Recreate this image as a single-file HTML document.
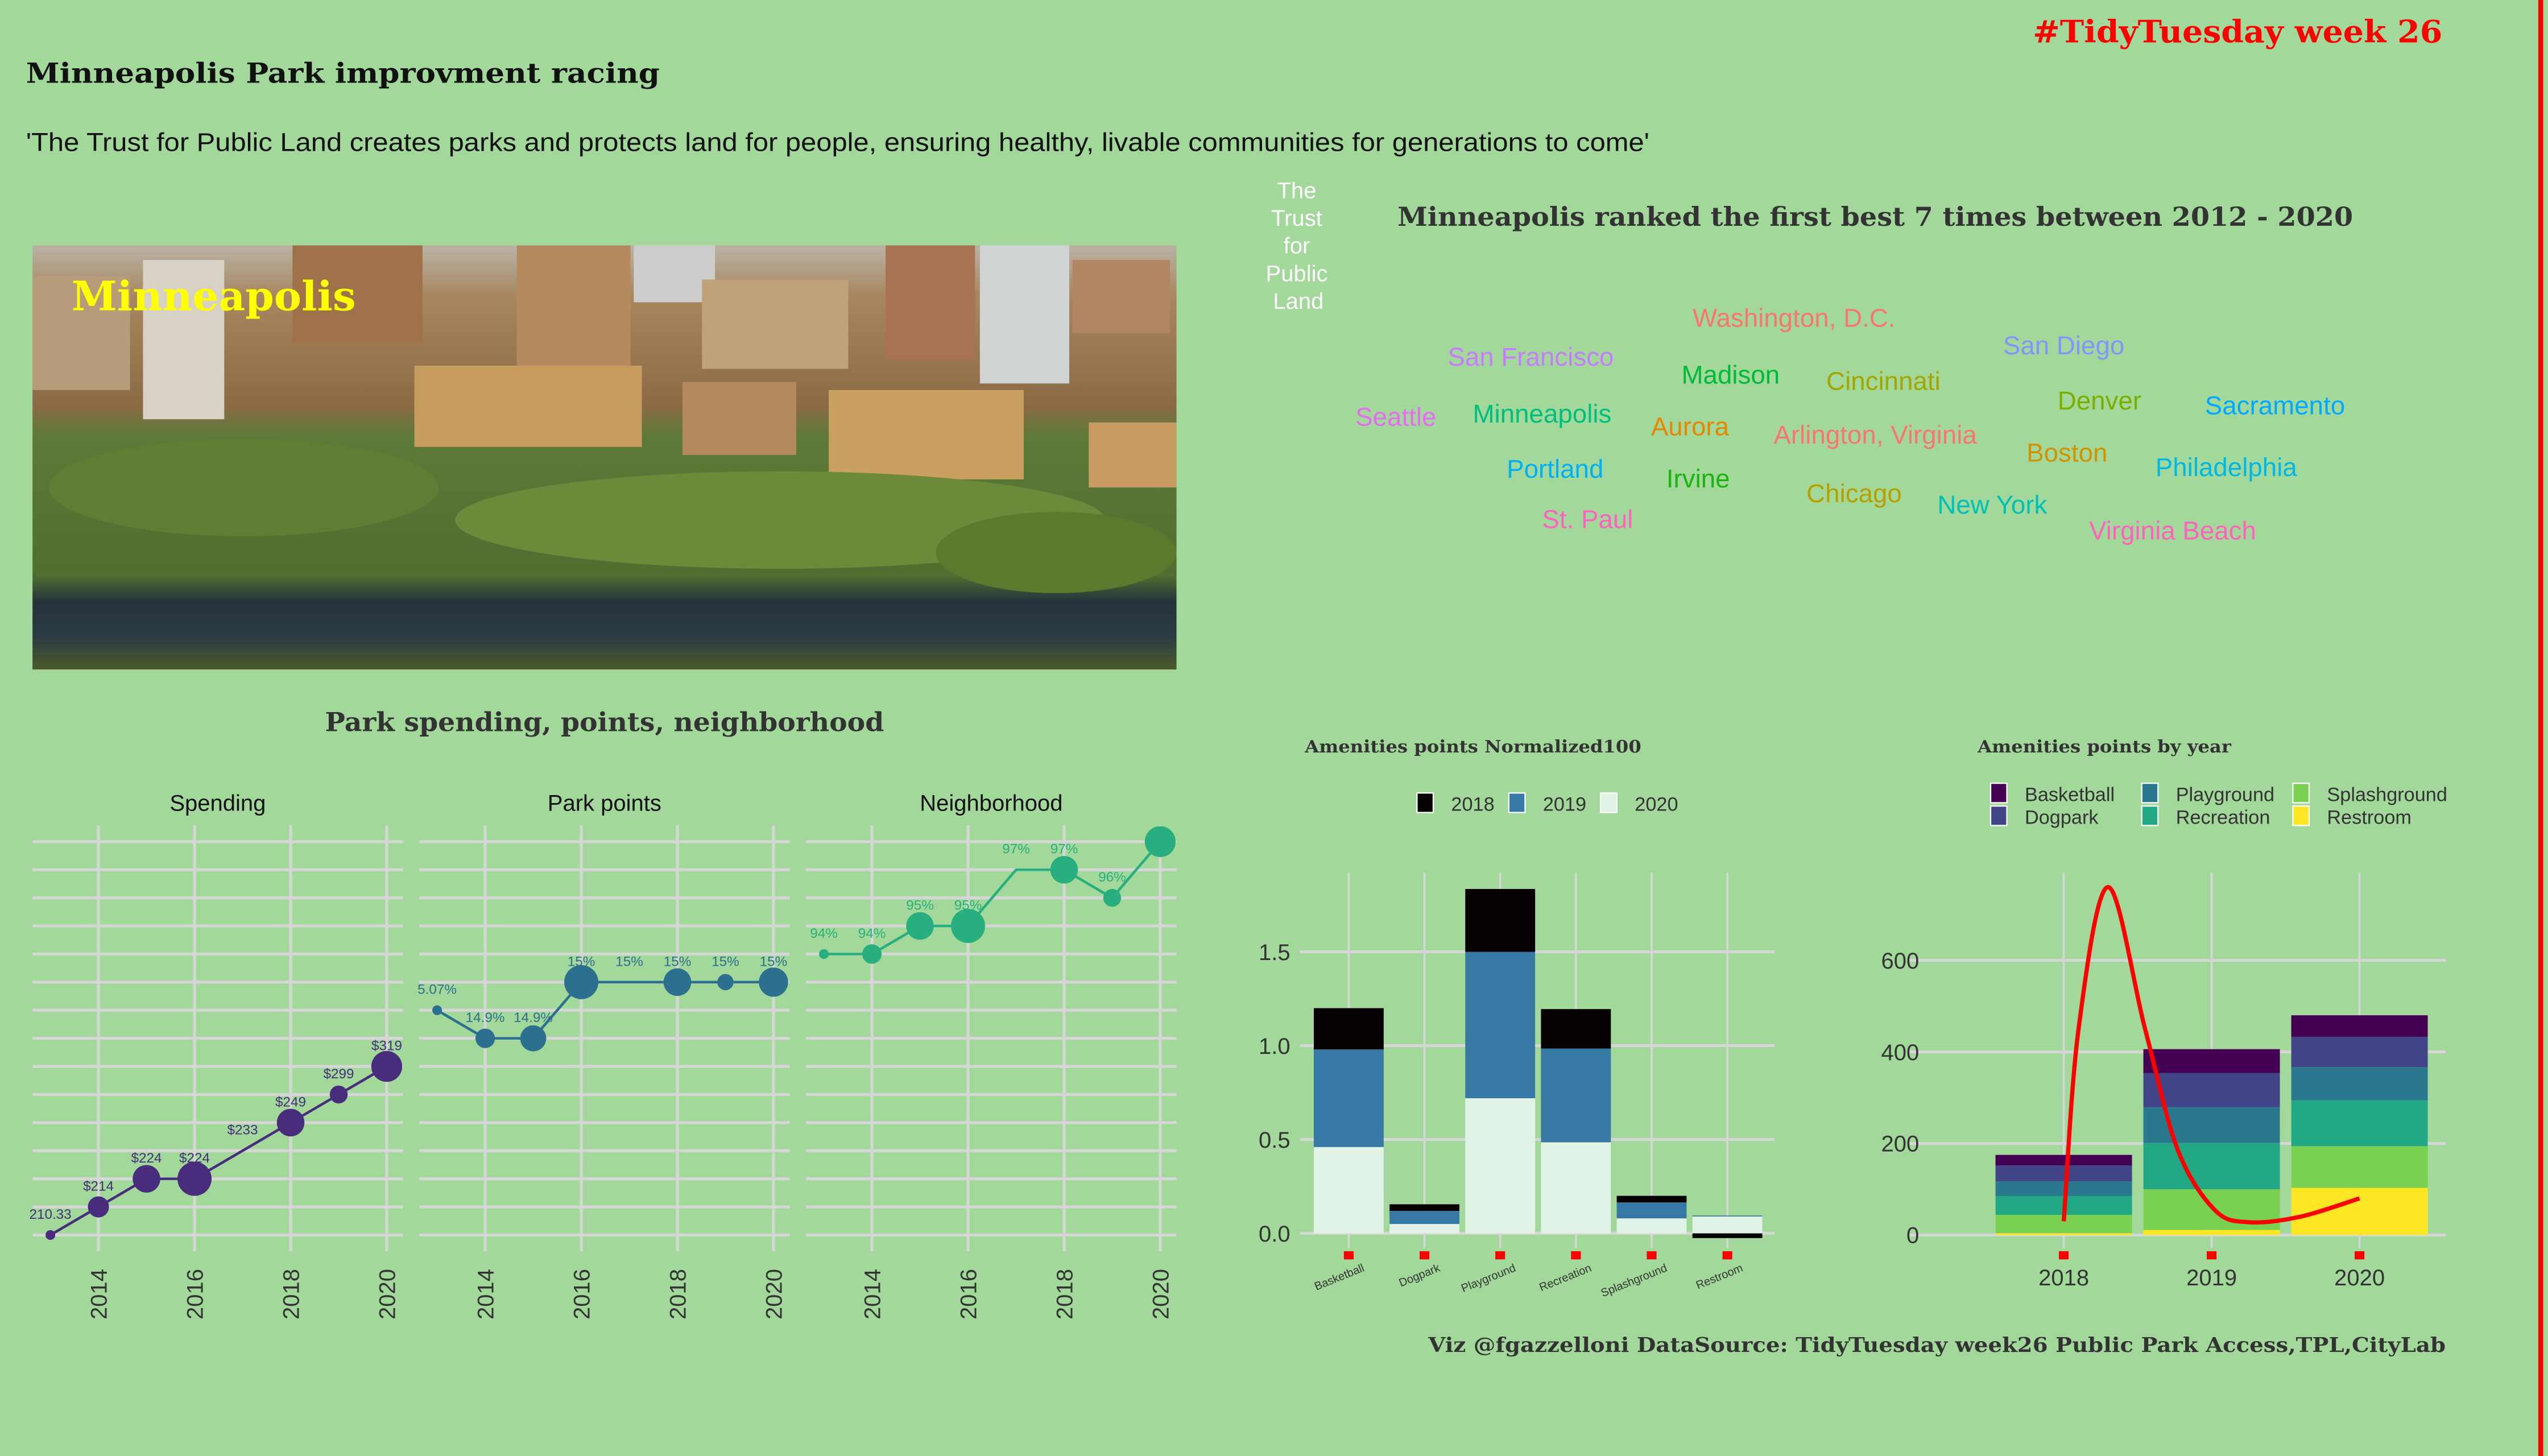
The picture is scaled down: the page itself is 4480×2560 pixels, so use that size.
<!DOCTYPE html>
<html><head><meta charset="utf-8"><style>
html,body{margin:0;padding:0;background:#A2D99B;}
svg{display:block;}
.ser{font-family:"DejaVu Serif","Liberation Serif",serif;font-weight:bold;}
.sans{font-family:"Liberation Sans",sans-serif;}
</style></head><body>
<svg id="root" width="4480" height="2560" viewBox="0 0 1568 896" xmlns="http://www.w3.org/2000/svg">
<rect x="0" y="0" width="1568" height="896" fill="#A2D99B"/>
<rect x="1562" y="0" width="3" height="896" fill="#FF0000"/>
<text x="1251" y="26" textLength="252" lengthAdjust="spacingAndGlyphs" class="ser" font-size="19" fill="#FF0000">#TidyTuesday week 26</text>
<text x="16" y="51" textLength="390" lengthAdjust="spacingAndGlyphs" class="ser" font-size="17" fill="#111">Minneapolis Park improvment racing</text>
<text x="16" y="93" textLength="999" lengthAdjust="spacingAndGlyphs" class="sans" font-size="16" fill="#111">'The Trust for Public Land creates parks and protects land for people, ensuring healthy, livable communities for generations to come'</text>

<g>
<defs>
<linearGradient id="ph" x1="0" y1="0" x2="0" y2="1">
<stop offset="0" stop-color="#b9b3a5"/><stop offset="0.12" stop-color="#a8865f"/><stop offset="0.38" stop-color="#8b6a45"/><stop offset="0.45" stop-color="#5d7a38"/><stop offset="0.78" stop-color="#4f6e30"/><stop offset="0.84" stop-color="#25323a"/><stop offset="0.92" stop-color="#2b3a44"/><stop offset="1" stop-color="#4a5a2a"/>
</linearGradient>
</defs>
<rect x="20" y="151" width="704" height="261" fill="url(#ph)"/>
<rect x="88" y="160" width="50" height="98" fill="#d8d2c6"/>
<rect x="180" y="151" width="80" height="60" fill="#a0724a"/>
<rect x="318" y="151" width="70" height="78" fill="#b48a5e"/>
<rect x="390" y="151" width="50" height="35" fill="#cfcdcb"/>
<rect x="432" y="172" width="90" height="55" fill="#c0a27a"/>
<rect x="545" y="151" width="55" height="70" fill="#a87352"/>
<rect x="603" y="151" width="55" height="85" fill="#cfd3d3"/>
<rect x="255" y="225" width="140" height="50" fill="#c79a5e"/>
<rect x="420" y="235" width="70" height="45" fill="#b38a5e"/>
<rect x="510" y="240" width="120" height="55" fill="#c9a060"/>
<rect x="660" y="160" width="60" height="45" fill="#b18763"/>
<rect x="670" y="260" width="54" height="40" fill="#c69a60"/>
<rect x="20" y="170" width="60" height="70" fill="#b79c7c"/>
<ellipse cx="150" cy="300" rx="120" ry="30" fill="#5f7e34"/>
<ellipse cx="480" cy="320" rx="200" ry="30" fill="#6d8a3a"/>
<ellipse cx="650" cy="340" rx="74" ry="25" fill="#5b7a2e"/>
<text x="44" y="191" textLength="175" lengthAdjust="spacingAndGlyphs" class="ser" font-size="25" fill="#FFFF00">Minneapolis</text>
</g>

<g class="sans" font-size="14" fill="#ffffff" text-anchor="middle">
<text x="798" y="122">The</text><text x="798" y="139">Trust</text><text x="798" y="156">for</text><text x="798" y="173">Public</text><text x="799" y="190">Land</text>
</g>
<text x="860" y="139" textLength="588" lengthAdjust="spacingAndGlyphs" class="ser" font-size="16" fill="#333">Minneapolis ranked the first best 7 times between 2012 - 2020</text>
<g id="cloud" class="sans" font-size="16" text-anchor="middle"></g>

<text x="200" y="450" textLength="344" lengthAdjust="spacingAndGlyphs" class="ser" font-size="16" fill="#333">Park spending, points, neighborhood</text>
<g id="facets"></g>

<text x="803" y="463" textLength="207" lengthAdjust="spacingAndGlyphs" class="ser" font-size="10.5" fill="#333">Amenities points Normalized100</text>
<g id="norm"></g>

<text x="1217" y="463" textLength="156" lengthAdjust="spacingAndGlyphs" class="ser" font-size="10.5" fill="#333">Amenities points by year</text>
<g id="yearc"></g>

<text x="879" y="832" textLength="626" lengthAdjust="spacingAndGlyphs" class="ser" font-size="12.5" fill="#333">Viz @fgazzelloni DataSource: TidyTuesday week26 Public Park Access,TPL,CityLab</text>
</svg>
<script>
// ---------- word cloud ----------
const cityNames = ['Washington, D.C.','San Francisco','San Diego','Madison','Cincinnati','Denver','Sacramento','Seattle','Minneapolis','Aurora','Arlington, Virginia','Boston','Philadelphia','Portland','Irvine','Chicago','New York','St. Paul','Virginia Beach'];
const cityX = [1104,942,1270,1065,1159,1292,1400,859,949,1040,1154,1272,1370,957,1045,1141,1226,977,1337];
const cityY = [201,225,218,236,240,252,255,262,260,268,273,284,293,294,300,309,316,325,332];
const cityColors = ['#F8766D','#C77CFF','#8494FF','#00BA38','#A3A500','#7CAE00','#00A9FF','#E76BF3','#00BF7D','#E58700','#F8766D','#D39200','#00B8E7','#00B0F6','#1BB40F','#B79F00','#00C0B8','#FF61C3','#FF62BC'];
const NS='http://www.w3.org/2000/svg';
function mk(tag, attrs, parent){const e=document.createElementNS(NS,tag);for(const k in attrs)e.setAttribute(k,attrs[k]);parent.appendChild(e);return e;}
const cloud=document.getElementById('cloud');
cityNames.forEach((c,i)=>{const t=mk('text',{x:cityX[i],y:cityY[i],fill:cityColors[i]},cloud);t.textContent=c;

});

// ---------- facet chart ----------
const facetNames = ['Spending','Park points','Neighborhood'];
const facetColors = ['#472D7B','#2D6F8E','#29AF7F'];
const years = [2013,2014,2015,2016,2017,2018,2019,2020];
const yCategories = ['210.33','$214','$224','$233','$249','$299','$319','14.9%','5.07%','15%','94%','95%','96%','97%','98%'];
const spendingValues = ['210.33','$214','$224','$224','$233','$249','$299','$319'];
const parkValues = ['5.07%','14.9%','14.9%','15%','15%','15%','15%','15%'];
const neighValues = ['94%','94%','95%','95%','97%','97%','96%','98%'];
const spendingSizes = [3,6.5,8.5,10.5,0,8.5,5.5,9.5];
const parkSizes = [3,6,8,10.5,0,8.5,5,9];
const neighSizes = [3,6,8.5,10.5,0,8.5,5.5,9.5];
const neighShowLabel = [1,1,1,1,1,1,1,0];
const facetTicks = [2014,2016,2018,2020];
const F=document.getElementById('facets');
function fx(f,yr){return 31+f*238+(yr-2013)*29.57;}
function fy(v){return 760-yCategories.indexOf(v)*17.29;}
const series=[[spendingValues,spendingSizes],[parkValues,parkSizes],[neighValues,neighSizes]];
for(let f=0;f<3;f++){
  const x0=20+f*238, x1=248+f*238;
  const tt=mk('text',{x:(x0+x1)/2,y:499,'text-anchor':'middle','font-size':14,fill:'#111','font-family':'Liberation Sans, sans-serif'},F);tt.textContent=facetNames[f];
  
  
  yCategories.forEach(c=>{const l=mk('line',{x1:x0,x2:x1,y1:fy(c),y2:fy(c),stroke:'#D6D6D6','stroke-width':1.8},F);
    
    });
  facetTicks.forEach(yr=>{const l=mk('line',{x1:fx(f,yr),x2:fx(f,yr),y1:508,y2:770,stroke:'#D6D6D6','stroke-width':1.8},F);
    
    
    const t=mk('text',{x:0,y:0,transform:`translate(${fx(f,yr)+5},812) rotate(-90)`,'font-size':14,fill:'#333','font-family':'Liberation Sans, sans-serif'},F);t.textContent=yr;
    
    });
  const vals=series[f][0], sizes=series[f][1], col=facetColors[f];
  const pts=years.map((yr,i)=>fx(f,yr)+','+fy(vals[i])).join(' ');
  const pl=mk('polyline',{points:pts,fill:'none',stroke:col,'stroke-width':1.6},F);
  
  
  years.forEach((yr,i)=>{
    if(sizes[i]>0){const c=mk('circle',{cx:fx(f,yr),cy:fy(vals[i]),r:sizes[i],fill:col},F);
      
      }
    if(f===2&&!neighShowLabel[i])return;
    const t=mk('text',{x:fx(f,yr),y:fy(vals[i])-10,'text-anchor':'middle','font-size':8.5,fill:col,'font-family':'Liberation Sans, sans-serif'},F);
    t.textContent=vals[i];
    
    
  });
}

// ---------- normalized stacked bar ----------
const amenities = ['Basketball','Dogpark','Playground','Recreation','Splashground','Restroom'];
const norm2020 = [0.46,0.05,0.72,0.485,0.08,0.09];
const norm2019 = [0.52,0.07,0.78,0.50,0.085,0.005];
const norm2018 = [0.22,0.035,0.335,0.21,0.035,-0.025];
const normTicks = [0,0.5,1.0,1.5];
const normTickLabels = ['0.0','0.5','1.0','1.5'];
const N=document.getElementById('norm');
function nx(i){return 830+i*46.6;}
function ny(v){return 759-v*115.5;}
normTicks.forEach((v,i)=>{const l=mk('line',{x1:800,x2:1092,y1:ny(v),y2:ny(v),stroke:'#D6D6D6','stroke-width':1.8},N);
  
  
  const t=mk('text',{x:794,y:ny(v)+5,'text-anchor':'end','font-size':14,fill:'#333','font-family':'Liberation Sans, sans-serif'},N);t.textContent=normTickLabels[i];
  
  });
amenities.forEach((a,i)=>{const l=mk('line',{x1:nx(i),x2:nx(i),y1:537,y2:768,stroke:'#D6D6D6','stroke-width':1.3},N);
  
  });
const normSeries=[[norm2020,'#E0F3E6'],[norm2019,'#3679A4'],[norm2018,'#070000']];
amenities.forEach((a,i)=>{
  let pos=0,neg=0;
  normSeries.forEach(s=>{const v=s[0][i];let y0,y1;
    if(v>=0){y0=pos;y1=pos+v;pos=y1;}else{y0=neg;y1=neg+v;neg=y1;}
    const r=mk('rect',{x:nx(i)-21.5,y:Math.min(ny(y0),ny(y1)),width:43,height:Math.abs(ny(y1)-ny(y0)),fill:s[1]},N);
    
    });
  const m=mk('rect',{x:nx(i)-3,y:770,width:6,height:5,fill:'#FF0000'},N);
  
  
  const t=mk('text',{x:0,y:0,transform:`translate(${nx(i)+10},782) rotate(-22)`,'text-anchor':'end','font-size':7,fill:'#333','font-family':'Liberation Sans, sans-serif'},N);t.textContent=a;
  
  
});
const normLegendYears=['2018','2019','2020'];
const normLegendColors=['#070000','#3679A4','#E0F3E6'];
normLegendYears.forEach((y,i)=>{const x=877+i*56.5;
  const r=mk('rect',{x:x-5,y:488,width:10,height:12,fill:normLegendColors[i],stroke:'#fff','stroke-width':0.8},N);
  
  
  const t=mk('text',{x:x+16,y:499,'font-size':12,fill:'#333','font-family':'Liberation Sans, sans-serif'},N);t.textContent=y;
  
  });

// ---------- amenities by year ----------
const barYears = [2018,2019,2020];
const amenityOrder = ['Restroom','Splashground','Recreation','Playground','Dogpark','Basketball'];
const amenityColors = ['#FDE725','#7AD151','#22A884','#2A788E','#414487','#440154'];
const restroomVals = [4,11,103];
const splashVals = [40,89,91];
const recreationVals = [41,101,100];
const playgroundVals = [32,78,73];
const dogparkVals = [35,75,66];
const basketballVals = [23,52,47];
const curveYears = [2018,2018.1,2018.3,2018.55,2018.77,2019.02,2019.25,2019.6,2020];
const curveVals = [30,450,760,450,187,55,28,40,80];
const yearTicks = [0,200,400,600];
const Y=document.getElementById('yearc');
function yx(yr){return 1270+(yr-2018)*91;}
function yy(v){return 760-v*0.2817;}
yearTicks.forEach(v=>{const l=mk('line',{x1:1175,x2:1505,y1:yy(v),y2:yy(v),stroke:'#D6D6D6','stroke-width':1.8},Y);
  
  
  const t=mk('text',{x:1181,y:yy(v)+5,'text-anchor':'end','font-size':14,fill:'#333','font-family':'Liberation Sans, sans-serif'},Y);t.textContent=v;
  
  });
barYears.forEach(yr=>{const l=mk('line',{x1:yx(yr),x2:yx(yr),y1:537,y2:768,stroke:'#D6D6D6','stroke-width':1.3},Y);
  
  });
const stackVals=[restroomVals,splashVals,recreationVals,playgroundVals,dogparkVals,basketballVals];
barYears.forEach((yr,j)=>{let acc=0;
  stackVals.forEach((s,k)=>{const v=s[j];
    const r=mk('rect',{x:yx(yr)-42,y:yy(acc+v),width:84,height:yy(acc)-yy(acc+v),fill:amenityColors[k]},Y);
    
    
    acc+=v;});
  const m=mk('rect',{x:yx(yr)-3,y:770,width:6,height:5,fill:'#FF0000'},Y);
  
  
  const t=mk('text',{x:yx(yr),y:791,'text-anchor':'middle','font-size':14,fill:'#333','font-family':'Liberation Sans, sans-serif'},Y);t.textContent=yr;
  
  });
// smooth curve (Catmull-Rom)
const cp=curveYears.map((yr,i)=>[yx(yr),yy(curveVals[i])]);
let d='M'+cp[0][0]+','+cp[0][1];
for(let i=0;i<cp.length-1;i++){const p0=cp[Math.max(0,i-1)],p1=cp[i],p2=cp[i+1],p3=cp[Math.min(cp.length-1,i+2)];
  const k=6;
  const c1=[p1[0]+(p2[0]-p0[0])/k,p1[1]+(p2[1]-p0[1])/k],c2=[p2[0]-(p3[0]-p1[0])/k,p2[1]-(p3[1]-p1[1])/k];
  d+=` C${c1[0]},${c1[1]} ${c2[0]},${c2[1]} ${p2[0]},${p2[1]}`;}
const cv=mk('path',{d:d,fill:'none',stroke:'#FF0000','stroke-width':2.6},Y);


const legOrder=['Basketball','Dogpark','Playground','Recreation','Splashground','Restroom'];
const legColors=['#440154','#414487','#2A788E','#22A884','#7AD151','#FDE725'];
legOrder.forEach((a,i)=>{const col=Math.floor(i/2),row=i%2;const x=1230+col*93,y=488+row*14;
  const r=mk('rect',{x:x-5,y:y-6,width:10,height:12,fill:legColors[i],stroke:'#fff','stroke-width':0.8},Y);
  
  
  const t=mk('text',{x:x+16,y:y+5,'font-size':12,fill:'#333','font-family':'Liberation Sans, sans-serif'},Y);t.textContent=a;
  
  });
</script>
</body></html>
